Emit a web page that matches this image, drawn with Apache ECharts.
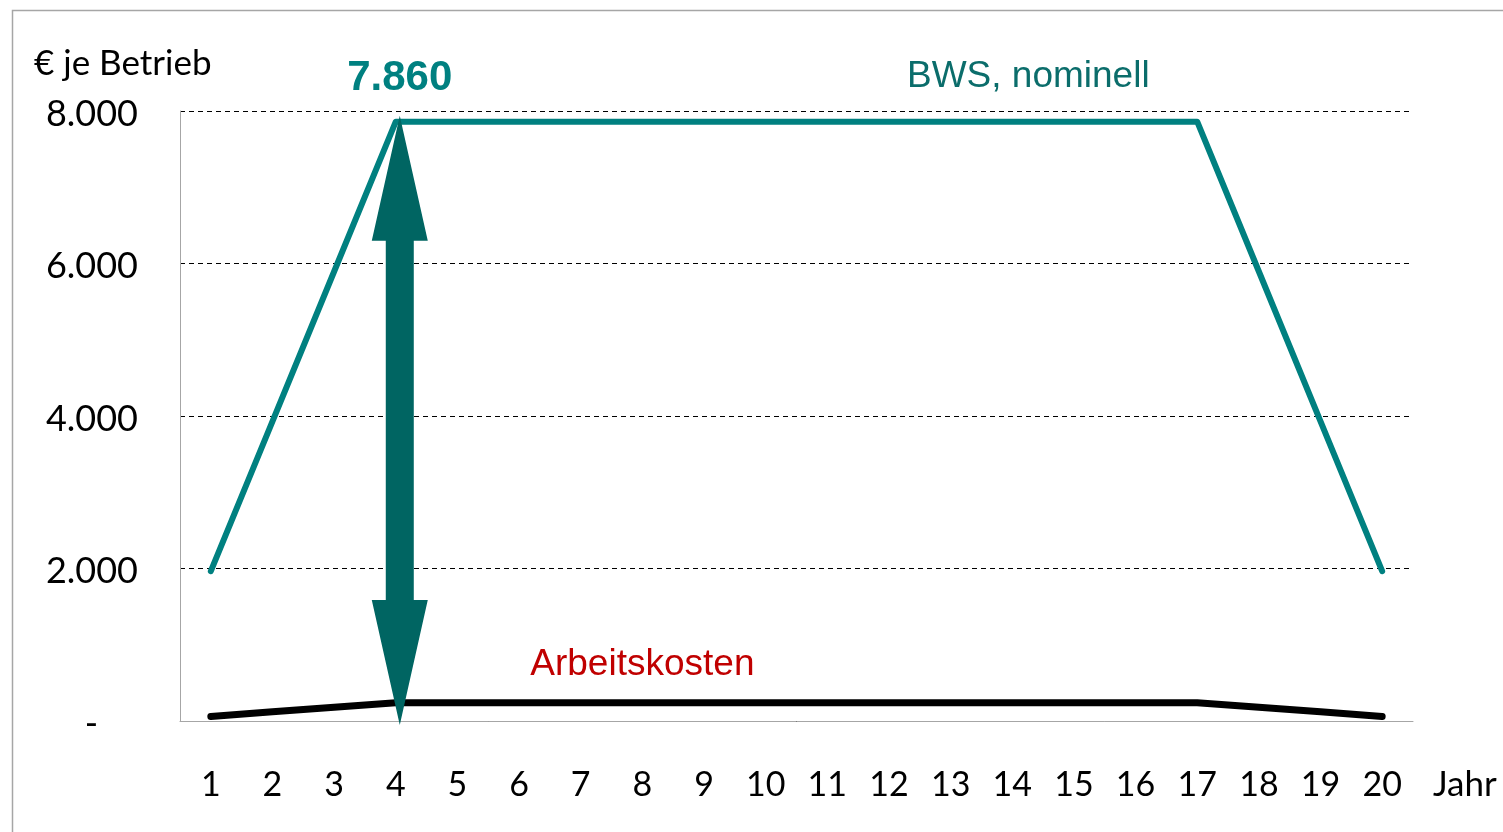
<!DOCTYPE html>
<html lang="de" style="height: 100%">
<head>
    <meta charset="utf-8">
    <title>BWS und Arbeitskosten</title>
    <script src="https://cdn.jsdelivr.net/npm/echarts@6/dist/echarts.min.js"></script>
</head>
<body style="height: 100%; margin: 0; background: #fff;">
<div id="container" style="width: 1503px; height: 832px;"></div>
<script type="text/javascript">
    // Jahre 1..20
    var years = ['1','2','3','4','5','6','7','8','9','10','11','12','13','14','15','16','17','18','19','20'];
    // BWS, nominell (€ je Betrieb)
    var bws = [1965, 3930, 5895, 7860, 7860, 7860, 7860, 7860, 7860, 7860, 7860, 7860, 7860, 7860, 7860, 7860, 7860, 5895, 3930, 1965];
    // Arbeitskosten (€ je Betrieb)
    var arbeitskosten = [60, 120, 180, 240, 240, 240, 240, 240, 240, 240, 240, 240, 240, 240, 240, 240, 240, 180, 120, 60];
    // Doppelpfeil bei Jahr 4: von 0 bis Maximum
    var arrowData = [[3, 0, 7860]];

    var teal = '#008080';
    var darkTeal = '#006562';
    var font = 'Lato, "Open Sans", sans-serif';
    var arial = '"Liberation Sans", Arial, sans-serif';

    var myChart = echarts.init(document.getElementById('container'), null, {renderer: 'canvas'});

    var option = {
        animation: false,
        backgroundColor: '#fff',
        grid: {left: 180, right: 90, top: 111, bottom: 111},
        graphic: [
            {   // Rahmen
                type: 'rect', left: 10, top: 8,
                shape: {width: 1500, height: 830},
                style: {fill: 'none', stroke: '#a6a6a6', lineWidth: 1.5},
                silent: true
            },
            {
                type: 'text', left: 907, top: 58,
                style: {text: 'BWS, nominell', fill: '#0b6d6b', font: '37px ' + arial}
            }
        ],
        xAxis: {
            type: 'category',
            data: years,
            boundaryGap: true,
            name: 'Jahr',
            nameLocation: 'end',
            nameGap: 20,
            nameTextStyle: {color: '#000', fontSize: 35, fontFamily: font, verticalAlign: 'top', padding: [46, 0, 0, 0]},
            axisLine: {show: true, lineStyle: {color: '#a6a6a6', width: 1}},
            axisTick: {show: false},
            axisLabel: {color: '#000', fontSize: 34, fontFamily: font, margin: 47, interval: 0}
        },
        yAxis: {
            type: 'value',
            min: 0, max: 8000, interval: 2000,
            name: '€ je Betrieb',
            nameLocation: 'end',
            nameGap: 30,
            nameTextStyle: {color: '#000', fontSize: 35, fontFamily: font, align: 'left', padding: [0, 0, 0, -146]},
            axisLine: {show: true, lineStyle: {color: '#a6a6a6', width: 1}},
            axisTick: {show: false},
            splitLine: {show: true, lineStyle: {color: '#000', type: [5, 4], width: 1}},
            axisLabel: {
                color: '#000', fontSize: 36, fontFamily: font, margin: 42,
                padding: [6, 0, 0, 0],
                formatter: function (v) {
                    if (v === 0) return '{dash|-}';
                    return v.toString().replace(/\B(?=(\d{3})+(?!\d))/g, '.');
                },
                rich: {dash: {fontSize: 36, fontFamily: font, color: '#000', padding: [0, 40, 0, 0]}}
            }
        },
        series: [
            {
                name: 'BWS, nominell',
                type: 'line',
                data: bws,
                symbol: 'none',
                lineStyle: {color: teal, width: 6, cap: 'round', join: 'round'},
                itemStyle: {color: teal},
                markPoint: {
                    symbol: 'circle',
                    symbolSize: 0,
                    silent: true,
                    data: [{coord: [3, bws[3]], value: bws[3]}],
                    label: {
                        show: true, position: 'top', distance: 22, offset: [4, 0],
                        formatter: '7.860',
                        color: teal, fontSize: 42, fontWeight: 'bold', fontFamily: arial
                    }
                },
                z: 3
            },
            {
                name: 'Arbeitskosten',
                type: 'line',
                data: arbeitskosten,
                symbol: 'none',
                lineStyle: {color: '#000', width: 7, cap: 'round', join: 'round'},
                itemStyle: {color: '#000'},
                markPoint: {
                    symbol: 'circle',
                    symbolSize: 0,
                    silent: true,
                    data: [{coord: [7, arbeitskosten[7]], value: arbeitskosten[7]}],
                    label: {
                        show: true, position: 'top', distance: 19,
                        formatter: 'Arbeitskosten',
                        color: '#c00000', fontSize: 37, fontFamily: arial
                    }
                },
                z: 3
            },
            {
                name: 'Pfeil',
                type: 'custom',
                data: arrowData,
                z: 4,
                renderItem: function (params, api) {
                    var bottom = api.coord([api.value(0), api.value(1)]);
                    var top = api.coord([api.value(0), api.value(2)]);
                    var x = bottom[0] + 4;
                    var y0 = top[1] - 6;
                    var y1 = bottom[1] + 4;
                    var sw = 14, hw = 28, hl = 125;
                    return {
                        type: 'polygon',
                        shape: {
                            points: [
                                [x, y0],
                                [x + hw, y0 + hl],
                                [x + sw, y0 + hl],
                                [x + sw, y1 - hl],
                                [x + hw, y1 - hl],
                                [x, y1],
                                [x - hw, y1 - hl],
                                [x - sw, y1 - hl],
                                [x - sw, y0 + hl],
                                [x - hw, y0 + hl]
                            ]
                        },
                        style: {fill: darkTeal}
                    };
                }
            }
        ]
    };

    myChart.setOption(option);
    window.addEventListener('resize', myChart.resize);
</script>
</body>
</html>
